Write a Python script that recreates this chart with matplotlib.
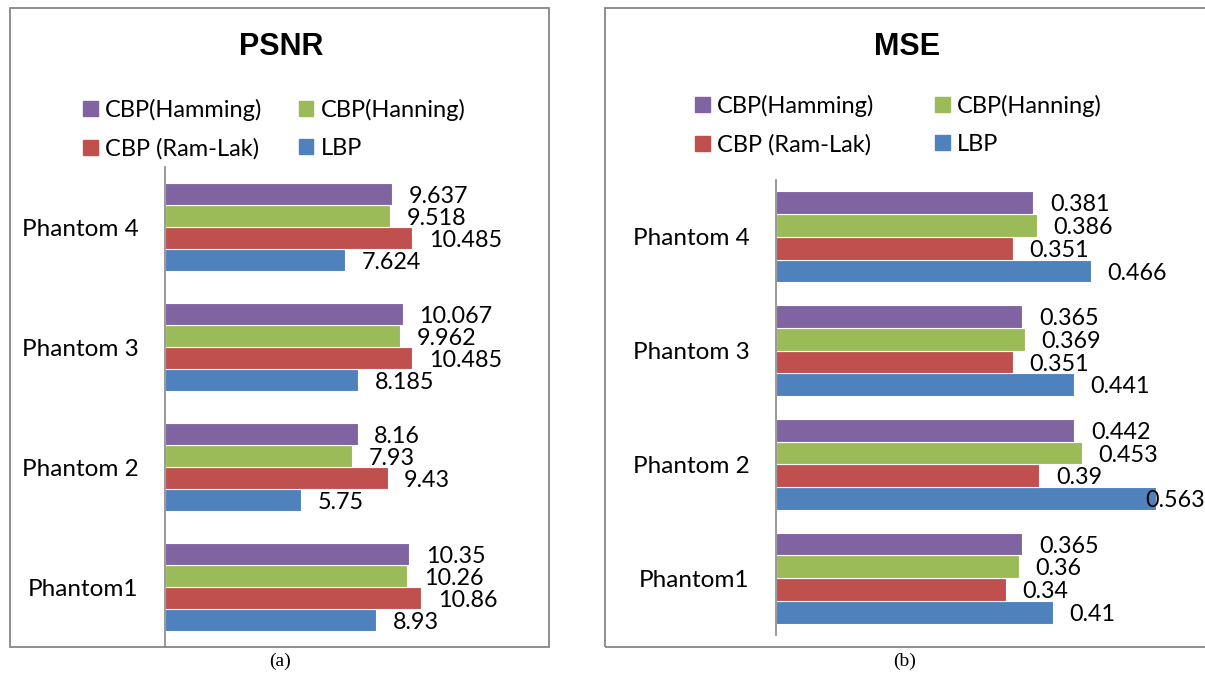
import numpy as np
import matplotlib
matplotlib.use("Agg")
import matplotlib.pyplot as plt
from matplotlib.patches import Rectangle, Patch

# ================================================================================================
# Data
# ================================================================================================

phantoms = ["Phantom1", "Phantom 2", "Phantom 3", "Phantom 4"]
series = ["LBP", "CBP (Ram-Lak)", "CBP(Hanning)", "CBP(Hamming)"]
colors = ["#4F81BD", "#C0504D", "#9BBB59", "#8064A2"]

psnr_lbp = [8.93, 5.75, 8.185, 7.624]
psnr_ramlak = [10.86, 9.43, 10.485, 10.485]
psnr_hanning = [10.26, 7.93, 9.962, 9.518]
psnr_hamming = [10.35, 8.16, 10.067, 9.637]

mse_lbp = [0.41, 0.563, 0.441, 0.466]
mse_ramlak = [0.34, 0.39, 0.351, 0.351]
mse_hanning = [0.36, 0.453, 0.369, 0.386]
mse_hamming = [0.365, 0.442, 0.365, 0.381]

FONT = "Lato"
W, H = 1205, 673


def fx(px):
    return px / W


def fy(py):
    return 1 - py / H


# ================================================================================================
# One bar panel
# ================================================================================================

def draw_panel(fig, box, frame, xmax, data, title, legend_y, legend_x, col_gap, sub, bar_h):

    ax = fig.add_axes([fx(box[0]), fy(box[3]), fx(box[2] - box[0]), (box[3] - box[1]) / H])
    y = np.arange(len(phantoms))

    for i, vals in enumerate(data):
        pos = y + (i - 1.5) * bar_h
        ax.barh(pos, vals, height=bar_h, color=colors[i], edgecolor="white", linewidth=0.8)
        for p, v in zip(pos, vals):
            if v / xmax > 0.8:
                ax.text(xmax, p - 0.02, f"{v:g}", ha="right", va="center",
                        fontsize=16.8, family=FONT, clip_on=False)
            else:
                ax.annotate(f"{v:g}", (v, p), xytext=(12, -1.5), textcoords="offset points",
                            ha="left", va="center", fontsize=16.8, family=FONT)

    ax.set_xlim(0, xmax)
    ax.set_ylim(-0.5, len(phantoms) - 0.5)
    ax.set_xticks([])
    ax.set_yticks(y)
    ax.set_yticklabels(phantoms, fontsize=17.5, family=FONT)
    ax.tick_params(axis="y", length=0, pad=19)
    for s in ["top", "right", "bottom"]:
        ax.spines[s].set_visible(False)
    ax.spines["left"].set_color("#868686")
    ax.spines["left"].set_linewidth(1.2)
    ax.patch.set_alpha(0)

    # outer frame of the chart
    fig.patches.append(Rectangle((fx(frame[0]), fy(frame[3])), fx(frame[2] - frame[0]),
                                 (frame[3] - frame[1]) / H, transform=fig.transFigure,
                                 fill=False, edgecolor="#868686", linewidth=1.3))

    mid = (frame[0] + min(frame[2], W)) / 2
    fig.text(fx(mid + 2), fy(47), title, ha="center", va="center",
             fontsize=22, fontweight="bold", family="Liberation Sans")

    handles = [Patch(color=colors[k]) for k in (3, 1, 2, 0)]
    labels = [series[k] for k in (3, 1, 2, 0)]
    fig.legend(handles, labels, loc="upper left", bbox_to_anchor=(fx(legend_x), fy(legend_y)),
               ncol=2, frameon=False, prop={"family": FONT, "size": 17},
               handlelength=0.62, handleheight=0.62, handletextpad=0.3,
               columnspacing=col_gap, labelspacing=0.72, borderpad=0, borderaxespad=0)

    fig.text(fx(mid), fy(661), sub, ha="center", va="center",
             fontsize=14, family="Liberation Serif")
    return ax


fig = plt.figure(figsize=(W / 100, H / 100), dpi=100)

draw_panel(fig, (165, 167, 540, 647), (10, 8, 549, 647), 375 / 23.6,
           [psnr_lbp, psnr_ramlak, psnr_hanning, psnr_hamming],
           "PSNR", 99, 83, 1.55, "(a)", 0.183)

draw_panel(fig, (776, 180, 1205, 635), (605, 8, 1230, 647), 429 / 675,
           [mse_lbp, mse_ramlak, mse_hanning, mse_hamming],
           "MSE", 95, 695, 2.6, "(b)", 0.2)

fig.savefig("out.png", dpi=100)
